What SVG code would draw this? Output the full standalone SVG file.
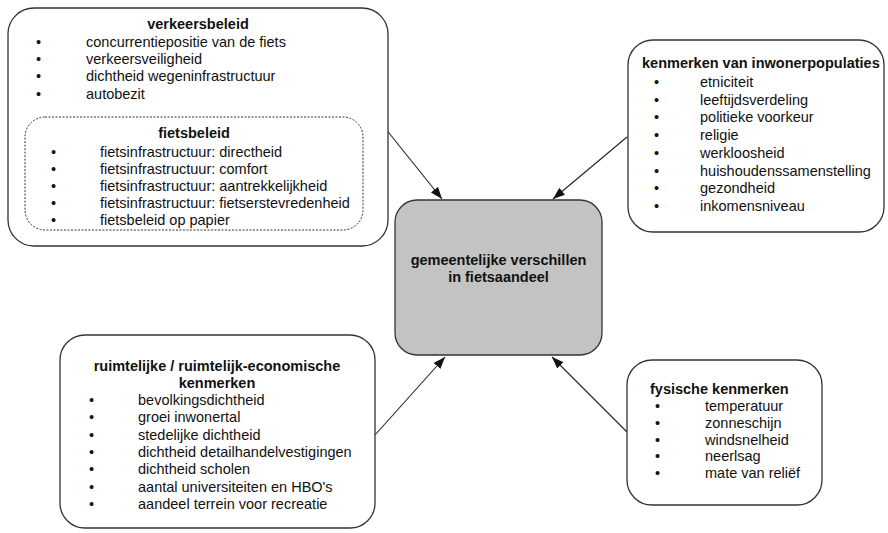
<svg xmlns="http://www.w3.org/2000/svg" width="888" height="533" viewBox="0 0 888 533">
<style>
.box{fill:#fff;stroke:#333;stroke-width:1.3}
.dash{fill:none;stroke:#333;stroke-width:1;stroke-dasharray:2 1.5}
.center{fill:#c3c3c3;stroke:#333;stroke-width:1.3}
text{font-family:"Liberation Sans",Arial,sans-serif;font-size:14.5px;fill:#111}
.t{font-weight:bold}
.m{text-anchor:middle}
.conn{stroke:#222;stroke-width:1.1;fill:none;marker-end:url(#ah)}
</style>
<defs>
<marker id="ah" markerUnits="userSpaceOnUse" markerWidth="13" markerHeight="9" refX="12" refY="4.5" orient="auto">
<path d="M0,0 L12,4.5 L0,9 z" fill="#111"/>
</marker>
</defs>
<rect width="888" height="533" fill="#fff"/>
<g id="connectors">
<line class="conn" x1="385" y1="128" x2="442" y2="199"/>
<line class="conn" x1="627" y1="137" x2="553" y2="199"/>
<line class="conn" x1="375" y1="435" x2="445" y2="357"/>
<line class="conn" x1="627" y1="432" x2="552" y2="357"/>
</g>
<g id="verkeersbeleid">
<rect class="box" x="8" y="8" width="380" height="238" rx="26"/>
<text class="t m" x="198" y="29">verkeersbeleid</text>
<text x="36" y="47">•</text><text x="86" y="47">concurrentiepositie van de fiets</text>
<text x="36" y="64">•</text><text x="86" y="64">verkeersveiligheid</text>
<text x="36" y="81">•</text><text x="86" y="81">dichtheid wegeninfrastructuur</text>
<text x="36" y="99">•</text><text x="86" y="99">autobezit</text>
</g>
<g id="fietsbeleid">
<rect class="dash" x="25" y="117" width="338" height="113" rx="20"/>
<text class="t m" x="194" y="138">fietsbeleid</text>
<text x="51" y="157">•</text><text x="100" y="157">fietsinfrastructuur: directheid</text>
<text x="51" y="174">•</text><text x="100" y="174">fietsinfrastructuur: comfort</text>
<text x="51" y="191">•</text><text x="100" y="191">fietsinfrastructuur: aantrekkelijkheid</text>
<text x="51" y="208">•</text><text x="100" y="208">fietsinfrastructuur: fietserstevredenheid</text>
<text x="51" y="225">•</text><text x="100" y="225">fietsbeleid op papier</text>
</g>
<g id="inwonerpopulaties">
<rect class="box" x="628" y="40" width="256" height="192" rx="25"/>
<text class="t" x="642" y="68">kenmerken van inwonerpopulaties</text>
<text x="654" y="87">•</text><text x="700" y="87">etniciteit</text>
<text x="654" y="104.7">•</text><text x="700" y="104.7">leeftijdsverdeling</text>
<text x="654" y="122.4">•</text><text x="700" y="122.4">politieke voorkeur</text>
<text x="654" y="140.1">•</text><text x="700" y="140.1">religie</text>
<text x="654" y="157.8">•</text><text x="700" y="157.8">werkloosheid</text>
<text x="654" y="175.5">•</text><text x="700" y="175.5">huishoudenssamenstelling</text>
<text x="654" y="193.2">•</text><text x="700" y="193.2">gezondheid</text>
<text x="654" y="210.9">•</text><text x="700" y="210.9">inkomensniveau</text>
</g>
<g id="center">
<rect class="center" x="395" y="200" width="207" height="155" rx="22"/>
<text class="t m" x="498.5" y="265">gemeentelijke verschillen</text>
<text class="t m" x="498.5" y="282">in fietsaandeel</text>
</g>
<g id="ruimtelijke">
<rect class="box" x="60" y="335" width="315" height="193" rx="25"/>
<text class="t m" x="217" y="371">ruimtelijke / ruimtelijk-economische</text>
<text class="t m" x="217" y="387.5">kenmerken</text>
<text x="89" y="405">•</text><text x="138" y="405">bevolkingsdichtheid</text>
<text x="89" y="422.3">•</text><text x="138" y="422.3">groei inwonertal</text>
<text x="89" y="439.6">•</text><text x="138" y="439.6">stedelijke dichtheid</text>
<text x="89" y="456.9">•</text><text x="138" y="456.9">dichtheid detailhandelvestigingen</text>
<text x="89" y="474.2">•</text><text x="138" y="474.2">dichtheid scholen</text>
<text x="89" y="491.5">•</text><text x="138" y="491.5">aantal universiteiten en HBO's</text>
<text x="89" y="508.8">•</text><text x="138" y="508.8">aandeel terrein voor recreatie</text>
</g>
<g id="fysische">
<rect class="box" x="627" y="360" width="195" height="145" rx="25"/>
<text class="t" x="650" y="394">fysische kenmerken</text>
<text x="655" y="411">•</text><text x="705" y="411">temperatuur</text>
<text x="655" y="427.8">•</text><text x="705" y="427.8">zonneschijn</text>
<text x="655" y="444.6">•</text><text x="705" y="444.6">windsnelheid</text>
<text x="655" y="461.4">•</text><text x="705" y="461.4">neerlsag</text>
<text x="655" y="478.2">•</text><text x="705" y="478.2">mate van reliëf</text>
</g>
</svg>
